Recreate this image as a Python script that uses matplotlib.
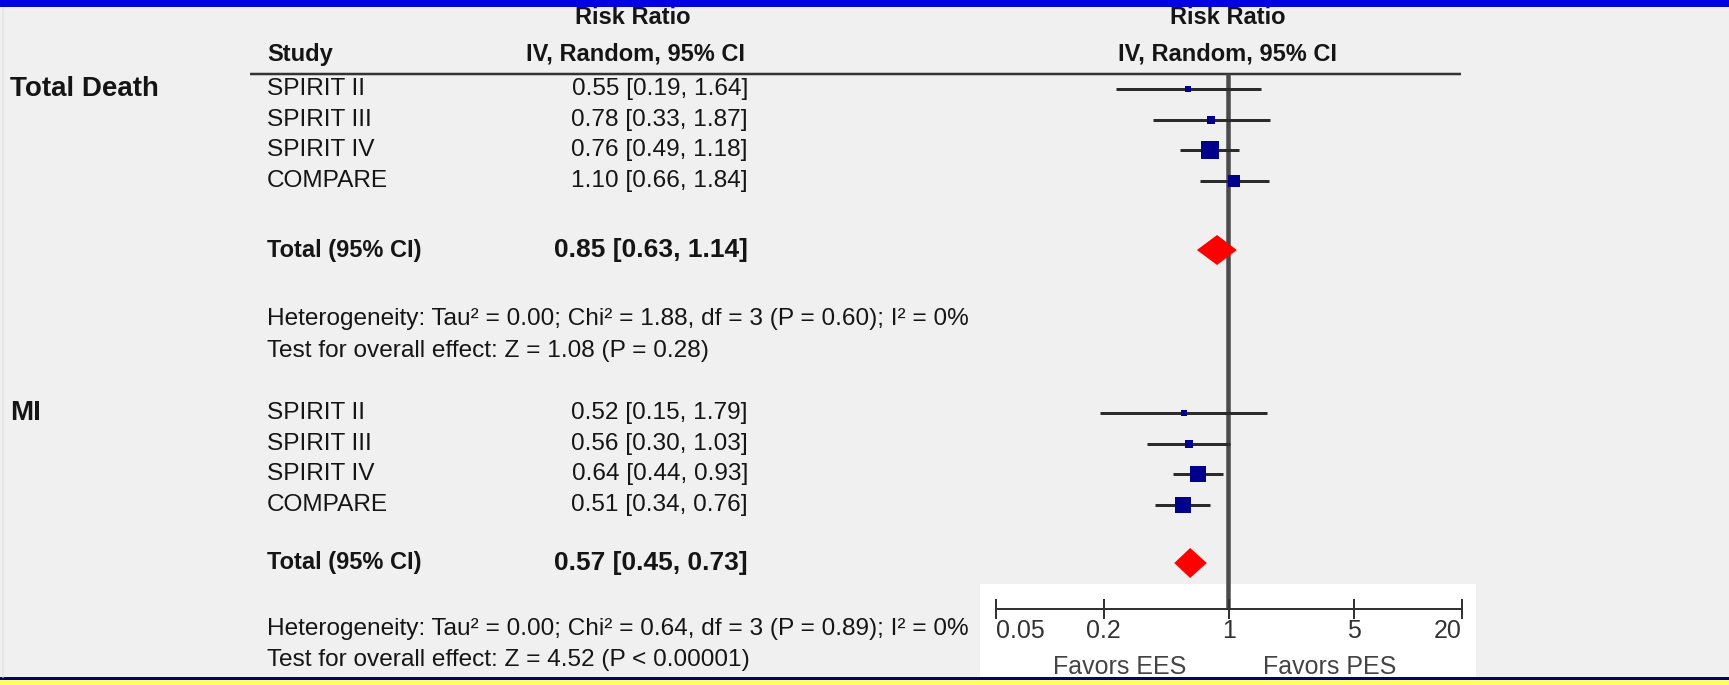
import matplotlib
matplotlib.use("Agg")
import matplotlib.pyplot as plt
import numpy as np
from matplotlib.patches import Rectangle, Polygon
from matplotlib.ticker import NullLocator

# ---------------- data ----------------
group_labels = ["Total Death", "MI"]
study_names = ["SPIRIT II", "SPIRIT III", "SPIRIT IV", "COMPARE"]

death_rr = [0.55, 0.78, 0.76, 1.10]
death_lo = [0.19, 0.33, 0.49, 0.66]
death_hi = [1.64, 1.87, 1.18, 1.84]
death_weight = [6, 11, 55, 28]
death_total = [0.85, 0.63, 1.14]
death_het = "Heterogeneity: Tau² = 0.00; Chi² = 1.88, df = 3 (P = 0.60); I² = 0%"
death_test = "Test for overall effect: Z = 1.08 (P = 0.28)"

mi_rr = [0.52, 0.56, 0.64, 0.51]
mi_lo = [0.15, 0.30, 0.44, 0.34]
mi_hi = [1.79, 1.03, 0.93, 0.76]
mi_weight = [5, 11, 44, 40]
mi_total = [0.57, 0.45, 0.73]
mi_het = "Heterogeneity: Tau² = 0.00; Chi² = 0.64, df = 3 (P = 0.89); I² = 0%"
mi_test = "Test for overall effect: Z = 4.52 (P < 0.00001)"

axis_ticks = [0.05, 0.2, 1, 5, 20]
axis_tick_labels = ["0.05", "0.2", "1", "5", "20"]
favor_labels = ["Favors EES", "Favors PES"]

header_top = "Risk Ratio"
header_sub = "IV, Random, 95% CI"
header_study = "Study"
total_label = "Total (95% CI)"

# ---------------- layout ----------------
W, H = 1729, 685
plt.rcParams['font.family'] = ['Liberation Sans', 'DejaVu Sans']


def px(p):
    return p * 0.72  # pixels -> points at dpi 100


TXT = '#151515'
BG = '#f0f0f0'

fig = plt.figure(figsize=(W / 100, H / 100), dpi=100, facecolor=BG)
bg = fig.add_axes([0, 0, 1, 1])
bg.set_xlim(0, W)
bg.set_ylim(H, 0)
bg.axis('off')

# frame decorations
bg.add_patch(Rectangle((0, 0), W, 7, color='#0000e0', lw=0, zorder=5))
bg.add_patch(Rectangle((0, 677), W, 3, color='#000080', lw=0))
bg.add_patch(Rectangle((0, 680), W, 5, color='#ffff66', lw=0))
bg.plot([3, 3], [7, 677], color='#e4e4e4', lw=px(1.5))

# white scale box
bg.add_patch(Rectangle((980, 584), 496, 93, color='white', lw=0))

x_group, x_study, x_val = 10, 267, 748
x_center_forest = 1228
px_per_decade = 155
FS = 17.6
FSB = 17

# headers
bg.text(633, 17, header_top, weight='bold', size=FSB, ha='center', va='center', color=TXT)
bg.text(x_center_forest, 17, header_top, weight='bold', size=FSB, ha='center', va='center', color=TXT)
bg.text(x_study, 54, header_study, weight='bold', size=FSB, ha='left', va='center', color=TXT)
bg.text(636, 54, header_sub, weight='bold', size=FSB, ha='center', va='center', color=TXT)
bg.text(x_center_forest, 54, header_sub, weight='bold', size=FSB, ha='center', va='center', color=TXT)
bg.plot([250, 1461], [74, 74], color='#333333', lw=px(2.5), solid_capstyle='butt')

# forest axes (log scale, x=1 at x_center_forest)
fx = fig.add_axes([0, 0, 1, 1])
fx.set_xscale('log')
fx.set_xlim(10 ** ((0 - x_center_forest) / px_per_decade),
            10 ** ((W - x_center_forest) / px_per_decade))
fx.set_ylim(H, 0)
fx.axis('off')
fx.patch.set_alpha(0)

fx.plot([1, 1], [74, 609], color='#4a4a4a', lw=px(4.5), solid_capstyle='butt', zorder=2)

blocks = [
    (death_rr, death_lo, death_hi, death_weight, death_total, death_het, death_test),
    (mi_rr, mi_lo, mi_hi, mi_weight, mi_total, mi_het, mi_test),
]
study_top = [89, 413]
row_step = 30.5
total_y = [250, 563]
het_y = [319, 629]
test_y = [351, 660]

for g, (rr, lo, hi, wt, tot, het, test) in enumerate(blocks):
    y0 = study_top[g]
    bg.text(x_group, y0, group_labels[g], weight='bold', size=20, va='center', color=TXT)
    for j, name in enumerate(study_names):
        y = y0 + j * row_step
        bg.text(x_study, y, name, size=FS, va='center', color=TXT)
        bg.text(x_val, y, f"{rr[j]:.2f} [{lo[j]:.2f}, {hi[j]:.2f}]", size=FS,
                ha='right', va='center', color=TXT)
        fx.plot([lo[j], hi[j]], [y, y], color='#2b2b2b', lw=px(3), solid_capstyle='butt', zorder=3)
        fx.plot([rr[j]], [y], marker='s', markersize=px(2.45 * np.sqrt(wt[j])),
                color='#00008b', markeredgewidth=0, zorder=4)
    ty = total_y[g]
    bg.text(x_study, ty, total_label, weight='bold', size=FSB, va='center', color=TXT)
    bg.text(x_val, ty, f"{tot[0]:.2f} [{tot[1]:.2f}, {tot[2]:.2f}]", weight='bold', size=19,
            ha='right', va='center', color=TXT)
    dh = 15
    fx.add_patch(Polygon([(tot[1], ty), (tot[0], ty - dh), (tot[2], ty), (tot[0], ty + dh)],
                         closed=True, color='#ff0000', lw=0, zorder=4))
    bg.text(x_study, het_y[g], het, size=FS, va='center', color=TXT)
    bg.text(x_study, test_y[g], test, size=FS, va='center', color=TXT)

# scale axis
x0_px, x1_px, yax = 996, 1462, 609
tx = fig.add_axes([x0_px / W, (H - yax) / H, (x1_px - x0_px) / W, 0.02])
tx.set_xscale('log')
tx.set_xlim(axis_ticks[0], axis_ticks[-1])
tx.patch.set_alpha(0)
for s in ['top', 'left', 'right']:
    tx.spines[s].set_visible(False)
tx.spines['bottom'].set_color('#333333')
tx.spines['bottom'].set_linewidth(px(2))
tx.set_yticks([])
tx.set_xticks(axis_ticks)
tx.set_xticklabels(axis_tick_labels)
tx.xaxis.set_minor_locator(NullLocator())
tx.tick_params(axis='x', direction='inout', length=px(20), width=px(2), color='#333333',
               labelsize=18, labelcolor='#333333', pad=0)
labs = tx.get_xticklabels()
labs[0].set_horizontalalignment('left')
labs[-1].set_horizontalalignment('right')

bg.text(1120, 667, favor_labels[0], size=18, ha='center', va='center', color='#444444')
bg.text(1330, 667, favor_labels[1], size=18, ha='center', va='center', color='#444444')

fig.savefig('out.png', dpi=100, facecolor=BG)
